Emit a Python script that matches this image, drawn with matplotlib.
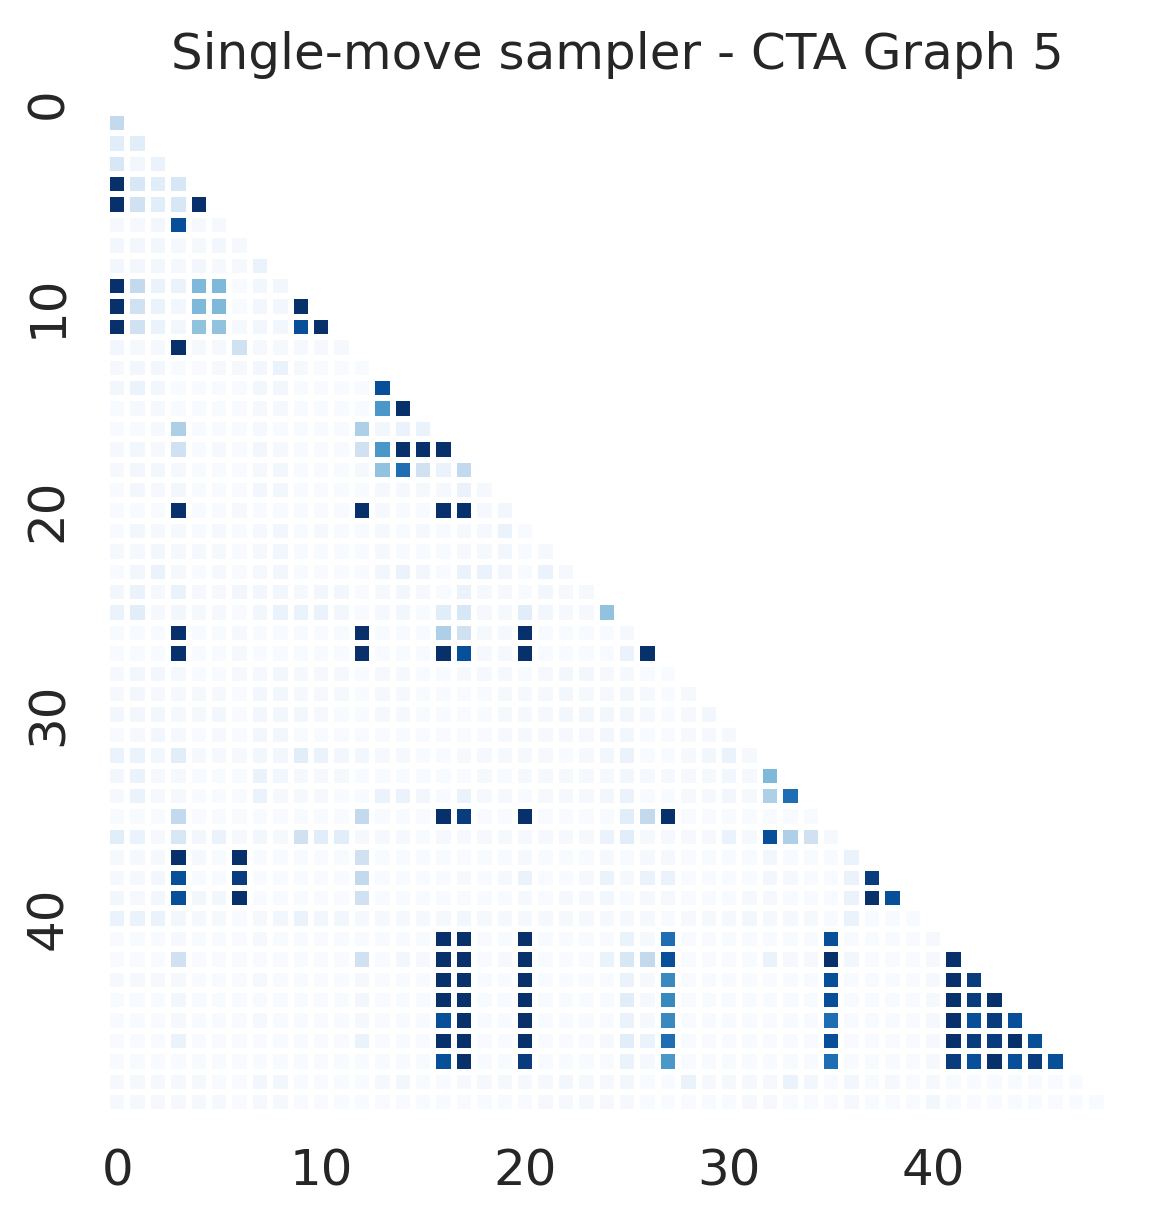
import numpy as np
import matplotlib
matplotlib.use("Agg")
import matplotlib.pyplot as plt
import seaborn as sns

# one letter per cell (lower triangle, row i has i cells)
levels = {
    ".": 0.0, "a": 0.015, "b": 0.035, "c": 0.065, "d": 0.11, "e": 0.16,
    "f": 0.2, "g": 0.26, "h": 0.33, "i": 0.41, "j": 0.45, "k": 0.6,
    "l": 0.66, "m": 0.76, "n": 0.88, "o": 0.95, "X": 1.0,
}

rows = [
    "",
    "g",
    "dd",
    "ebc",
    "Xede",
    "XfdeX",
    "aabnaa",
    "bbbaaba",
    "bbbabaac",
    "Xgccjj.bb",
    "Xfcbjj.bbX",
    "XfcbiiabbnX",
    "baaXaafaaaaa",
    "abb..aabca...",
    "bcb....bb....n",
    ".aa....aa....kX",
    "..ah...a....hbcc",
    "abaf.a.ba...fkXXX",
    "abba...ab...aimfcg",
    ".bab...bb....aaaaca",
    "...X..a.....Xa..XXab",
    ".baa.a.ab.a..a.a.aac.",
    "aabaaa.ab....a...aab.a",
    ".bca.a.ab....bcb.ccb.ca",
    "bcacaabbbabb.aba.caa.baa",
    "cdabaa.bcccb.ab.deaadbaai",
    "...X..a.....X...hfaaX....a",
    "...X..a.....X...XnaaX....cX",
    "abba..aabaaa.aa..aaa.abbaa..",
    "abaaaa.bbaaa.aa....aaabaaba.a",
    "bbbaab.bbba..aa....aaabbbba.ab",
    ".aba.a.bb..........aaaaabb..aaa",
    "ccbdaaabbdcbbaa..aaaaa.abc..abca",
    "bcaa...cbaaa......a.aaaaabaaaabaj",
    "acaa...caaa..ccb.caa.aaabc..aabahm",
    "...g........g...Xo..X....dgX.......",
    "dcaebcabafddaaa.aaaaaaaacdaaaacanhfa",
    "aaaXa.X.....f.......a...a.aa....b...c",
    "aabn..o.....g....a.ac..acacc....ba..co",
    "babnbbX.....f.......a.aab.aa...aa...cXn",
    "cccbaa.abcbbaaaaabaaaaaaaaa.aaabaaa.c...",
    "...a...a........XX..X....cam.......n....a",
    "...f........f.baXX.aX...cegn....caaXb...aX",
    "aaaa...a....a...XX..X....cal.......n....aXo",
    "...b........b...XX..X....dal.......n....aXoX",
    "...a...a....a...nX..X....cal.......m....aXnon",
    "...c........c...XX..X...adcm.......n....aXooXn",
    "................nX..o....cak.......m....aonXnon",
    "aaaaa..bb....ab..aaaaabaab..caaaacb.b.a.a.......",
    "aaaaaa.aa............aaaaa.....aa...a...b........",
]

title = "Single-move sampler - CTA Graph 5"
tick_pos = [0, 10, 20, 30, 40]

n = len(rows)
mat = np.zeros((n, n))
for i, row in enumerate(rows):
    for j, ch in enumerate(row):
        mat[i, j] = levels[ch]
mask = np.triu(np.ones((n, n), dtype=bool))

text_col = "#262626"

fig = plt.figure(figsize=(5.79, 6.105), dpi=200)
ax = fig.add_axes([0.0924, 0.0889, 0.8808, 0.8354])
sns.heatmap(mat, mask=mask, cmap="Blues", vmin=0, vmax=1, cbar=False,
            linewidths=2, linecolor="white", square=True, ax=ax)

ax.set_xticks(np.array(tick_pos) + 0.5)
ax.set_xticklabels([str(t) for t in tick_pos], rotation=0, fontsize=18, color=text_col)
ax.set_yticks(np.array(tick_pos) + 0.5)
ax.set_yticklabels([str(t) for t in tick_pos], rotation=90, va="center", fontsize=18, color=text_col)
ax.tick_params(length=0, pad=12.5)
for s in ax.spines.values():
    s.set_visible(False)

ax.set_title(title, fontsize=18, color=text_col, pad=8.3)

fig.savefig("out.png", dpi=200)
